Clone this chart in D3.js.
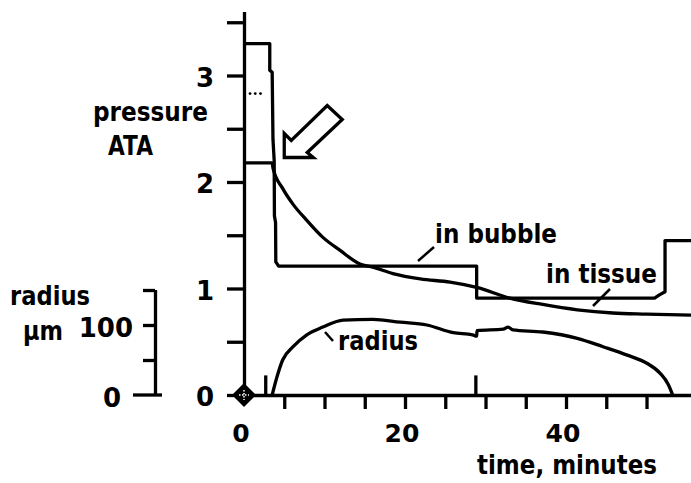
<!DOCTYPE html>
<html>
<head>
<meta charset="utf-8">
<script src="https://cdn.jsdelivr.net/npm/d3@7/dist/d3.min.js"></script>
<style>
  html, body { margin: 0; padding: 0; background: #fff; }
  svg { display: block; }
  text { font-family: 'DejaVu Sans', sans-serif; font-weight: bold; font-size: 26px; fill: #000; }
</style>
</head>
<body>
<svg id="chart" width="691" height="483"></svg>
<script>
// ---------------- DATA ----------------
// pressure in bubble (ATA) vs time (minutes)
const bubbleTime = [0, 3.2, 3.2, 3.5, 3.6, 3.75, 3.78, 3.92, 3.95, 4.3, 28.9, 28.9, 51.0, 51.6, 52.3, 52.3, 55.6];
const bubblePressure = [3.30, 3.30, 3.05, 3.03, 2.40, 2.20, 1.68, 1.62, 1.25, 1.21, 1.21, 0.91, 0.91, 0.94, 0.97, 1.45, 1.45];

// pressure in tissue (ATA) vs time (minutes)
const tissueTime = [0, 3.5, 3.6, 4.8, 6.1, 7.8, 9.8, 11.9, 14.4, 16.0, 18.5, 21.9, 25.6, 28.9, 33.0, 37.1, 41.4, 45.8, 50.0, 55.6];
const tissuePressure = [2.18, 2.18, 2.13, 1.94, 1.79, 1.64, 1.48, 1.36, 1.23, 1.20, 1.14, 1.09, 1.06, 1.01, 0.91, 0.85, 0.80, 0.77, 0.76, 0.75];

// bubble radius (µm) vs time (minutes)
const radiusTime = [3.5, 4.1, 4.8, 6.1, 7.8, 9.8, 12.3, 16.0, 19.4, 22.7, 26.0, 28.4, 28.9, 28.95, 32.2, 32.8, 33.4, 37.1, 41.4, 44.6, 47.6, 50.1, 51.7, 52.7, 53.25];
const radiusMicrons = [0, 26, 50, 69, 86, 97, 107, 108, 104, 100, 89, 86, 84, 92, 94, 97, 93, 90, 81, 69, 57, 45, 31, 15, 0];

// event markers on the time axis (minutes)
const eventTimes = [2.7, 28.8];
// dots near the top of the pressure profile
const dotTimes = [0.75, 1.4, 2.05];
const dotPressure = 2.83;

// ticks
const timeTicks = [5, 10, 15, 20, 25, 30, 35, 40, 45, 50];
const timeTickLabels = [0, 20, 40];
const pressureTicks = [0, 0.5, 1, 1.5, 2, 2.5, 3, 3.5];
const pressureTickLabels = [0, 1, 2, 3];
const radiusTicks = [50, 100, 150];
const radiusTickLabels = [0, 100];

// ---------------- LAYOUT ----------------
const svg = d3.select("#chart");
const x = d3.scaleLinear().domain([0, 55.6]).range([244, 691.6]);
const yP = d3.scaleLinear().domain([0, 3.6]).range([395, 11.6]);
const yR = d3.scaleLinear().domain([0, 150]).range([395, 290]);
const radiusAxisX = 155;

const ink = "#000";
const lw = 3.3;

// pressure axis
const gP = svg.append("g").attr("transform", `translate(${x(0)},0)`)
  .call(d3.axisLeft(yP).tickValues(pressureTicks).tickSize(17).tickSizeOuter(0).tickFormat(""));
// time axis
const gT = svg.append("g").attr("transform", `translate(0,${yP(0)})`)
  .call(d3.axisBottom(x).tickValues(timeTicks).tickSize(14).tickSizeOuter(0).tickFormat(""));
// radius axis
const gR = svg.append("g").attr("transform", `translate(${radiusAxisX},0)`)
  .call(d3.axisLeft(yR).tickValues(radiusTicks).tickSize(12).tickSizeOuter(0).tickFormat(""));
[gP, gT, gR].forEach(g => {
  g.select(".domain").attr("stroke", ink).attr("stroke-width", lw).attr("fill", "none");
  g.selectAll(".tick line").attr("stroke", ink).attr("stroke-width", lw);
});
// radius axis domain down to zero
gR.select(".domain").attr("d", `M0.5,${yR(0)}V${yR(150)}`);
// long zero line of radius axis
svg.append("line").attr("x1", radiusAxisX - 22).attr("x2", radiusAxisX + 7)
  .attr("y1", yR(0)).attr("y2", yR(0)).attr("stroke", ink).attr("stroke-width", lw);

// tick labels
svg.selectAll(".pLab").data(pressureTickLabels).enter().append("text")
  .attr("x", 214).attr("y", d => yP(d) + 11).attr("text-anchor", "end").text(d => d);
svg.selectAll(".tLab").data(timeTickLabels).enter().append("text")
  .attr("x", d => x(d) - 3).attr("y", 442).attr("text-anchor", "middle")
  .style("font-size", "25px").text(d => d);
svg.selectAll(".rLab").data(radiusTickLabels).enter().append("text")
  .attr("x", d => d === 0 ? 121 : 133).attr("y", d => yR(d) + 12).attr("text-anchor", "end").text(d => d);

// ---------------- LINES ----------------
const lineP = d3.line().x(d => x(d[0])).y(d => yP(d[1]));
const lineR = d3.line().x(d => x(d[0])).y(d => yR(d[1])).curve(d3.curveMonotoneX);
const lineT = d3.line().x(d => x(d[0])).y(d => yP(d[1])).curve(d3.curveMonotoneX);

svg.append("path").datum(bubbleTime.map((t, i) => [t, bubblePressure[i]]))
  .attr("d", lineP).attr("fill", "none").attr("stroke", ink).attr("stroke-width", lw)
  .attr("stroke-linejoin", "round");
svg.append("path").datum(tissueTime.map((t, i) => [t, tissuePressure[i]]))
  .attr("d", lineT).attr("fill", "none").attr("stroke", ink).attr("stroke-width", lw)
  .attr("stroke-linejoin", "round");
svg.append("path").datum(radiusTime.map((t, i) => [t, radiusMicrons[i]]))
  .attr("d", lineR).attr("fill", "none").attr("stroke", ink).attr("stroke-width", lw)
  .attr("stroke-linejoin", "round");

// event markers
svg.selectAll(".evt").data(eventTimes).enter().append("line")
  .attr("x1", d => x(d)).attr("x2", d => x(d))
  .attr("y1", yR(0)).attr("y2", yR(28))
  .attr("stroke", ink).attr("stroke-width", lw);

// dots
svg.selectAll(".dot").data(dotTimes).enter().append("circle")
  .attr("cx", d => x(d)).attr("cy", yP(dotPressure)).attr("r", 1.4).attr("fill", ink);

// diamond at origin
const ox = x(0), oy = yP(0);
svg.append("path").attr("d", `M${ox},${oy - 12}L${ox + 12},${oy}L${ox},${oy + 12}L${ox - 12},${oy}Z`)
  .attr("fill", ink);
svg.append("path").attr("d", `M${ox - 5},${oy}H${ox + 5}M${ox},${oy - 5}V${oy + 5}`)
  .attr("stroke", "#fff").attr("stroke-width", 1.5).attr("stroke-dasharray", "1.5,1.5");

// hollow arrow pointing to the start of the tissue decay
const ax = x(5.0), ay = yP(2.23);
const arrowPts = [[0, 0], [0, -24], [7, -17], [43, -52], [58, -38], [23, -5], [29, 0]];
svg.append("path")
  .attr("d", "M" + arrowPts.map(p => `${ax + p[0]},${ay + p[1]}`).join("L") + "Z")
  .attr("fill", "#fff").attr("stroke", ink).attr("stroke-width", lw).attr("stroke-linejoin", "miter");

// ---------------- TEXT ----------------
const words = [
  { t: "pressure", x0: 93, x1: 208, y: 121 },
  { t: "ATA", x0: 108, x1: 153, y: 155 },
  { t: "radius", x0: 10, x1: 90, y: 305 },
  { t: "µm", x0: 23, x1: 63, y: 340 },
  { t: "in bubble", x0: 435, x1: 557, y: 243 },
  { t: "in tissue", x0: 546, x1: 657, y: 283 },
  { t: "radius", x0: 338, x1: 418, y: 350 },
  { t: "time, minutes", x0: 477, x1: 657, y: 474 }
];
svg.selectAll(".word").data(words).enter().append("text")
  .attr("x", d => d.x0).attr("y", d => d.y)
  .attr("textLength", d => d.x1 - d.x0).attr("lengthAdjust", "spacingAndGlyphs")
  .text(d => d.t);

// pointer strokes for labels
const pointers = [
  [434, 247, 418, 261],
  [610, 289, 593, 306],
  [325, 332, 333, 341]
];
svg.selectAll(".ptr").data(pointers).enter().append("line")
  .attr("x1", d => d[0]).attr("y1", d => d[1]).attr("x2", d => d[2]).attr("y2", d => d[3])
  .attr("stroke", ink).attr("stroke-width", 2.5);
</script>
</body>
</html>
